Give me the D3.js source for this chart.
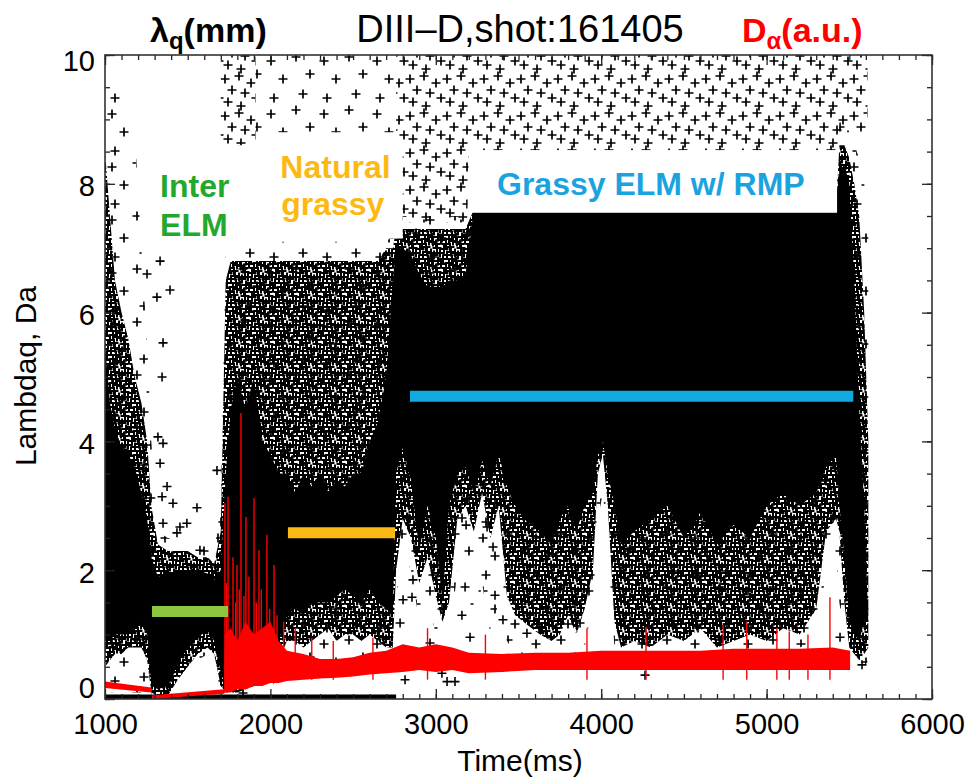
<!DOCTYPE html>
<html>
<head>
<meta charset="utf-8">
<title>DIII-D shot 161405</title>
<script src="https://d3js.org/d3.v7.min.js"></script>
<style>
  body { margin: 0; background: white; }
  text { font-family: "Liberation Sans", Arial, Helvetica, sans-serif; }
</style>
</head>
<body>
<svg id="chart" width="971" height="782"></svg>
<script>
// ---- data: [time ms, low, high] for lambda_q point clouds ----
const solidBand = [[1000,0.9,5.5],[1030,0.9,4.6],[1060,1.0,4.2],[1100,1.0,3.9],[1140,1.0,3.8],[1180,1.1,3.6],[1220,1.2,3.2],[1255,1.0,2.8],[1280,0.2,2.2],
  [1320,0.15,1.9],[1380,0.2,1.95],[1440,0.55,2.0],[1500,0.8,2.0],[1560,0.95,2.0],[1620,1.07,1.95],[1660,0.9,1.85],[1700,0.4,2.0],
  [1730,0.2,3.5],[1760,0.3,4.5],[1800,0.3,5.0],[1850,0.35,4.5],[1900,0.4,5.0],[1950,0.45,4.0],[2000,0.6,3.8],[2050,0.9,3.5],[2100,1.3,3.5],[2150,1.4,3.2],[2200,1.3,3.5],[2250,1.5,3.3],[2300,1.5,3.5],[2350,1.5,3.2],[2400,1.6,3.4],[2450,1.7,3.3],[2500,1.6,3.5],[2550,1.5,3.5],[2600,1.7,4.0],[2650,1.5,4.3],[2700,1.4,5.0],[2740,1.3,6.5],
  [2760,3.5,7.0],[2800,3.9,7.0],[2850,3.4,6.9],[2900,2.3,6.6],[2950,3.0,6.4],[3000,2.5,6.4],[3040,1.5,6.4],[3080,3.0,6.5],[3130,3.5,6.5],[3180,3.6,6.6],[3230,3.2,7.6],[3280,3.7,7.6],[3330,3.3,7.6],[3380,3.8,7.6],[3430,3.3,7.6],[3480,3.0,7.6],[3530,2.8,7.6],[3580,2.7,7.6],[3630,2.6,7.6],[3700,2.4,7.6],[3750,2.8,7.6],[3800,3.0,7.6],[3850,2.6,7.6],[3900,3.0,7.6],[3950,3.2,7.6],[3980,3.8,7.6],[4010,4.0,7.6],[4040,3.5,7.6],[4080,3.0,7.6],[4120,2.4,7.6],[4200,2.6,7.6],[4300,2.8,7.6],[4400,3.0,7.6],[4500,2.5,7.6],[4600,2.9,7.6],[4700,2.4,7.6],[4800,2.7,7.6],[4900,2.5,7.6],[5000,3.0,7.6],[5100,3.2,7.6],[5200,3.0,7.6],[5300,3.2,7.6],[5360,3.6,7.6],[5420,3.8,7.6],[5440,3.0,8.2],[5470,2.2,8.3],[5500,1.2,8.0],[5530,1.0,6.5],[5560,0.9,4.5],[5590,1.2,3.0],[5615,1.2,1.2]];

const mottleBand = [[1000,0.5,8.5],[1030,0.6,7.5],[1060,0.7,6.5],[1100,0.7,6.0],[1140,0.8,5.6],[1180,0.8,5.0],[1220,0.8,4.6],[1255,0.6,4.0],[1280,0.1,3.0],
  [1320,0.05,2.4],[1380,0.05,2.3],[1440,0.3,2.3],[1500,0.5,2.3],[1560,0.7,2.2],[1620,0.8,2.2],[1660,0.7,2.1],[1700,0.2,2.6],
  [1730,0.1,6.5],[1760,0.1,6.8],[1800,0.1,6.8],[1850,0.15,6.8],[1900,0.2,6.8],[1950,0.2,6.8],[2000,0.3,6.8],[2050,0.6,6.8],[2100,0.9,6.8],[2150,0.9,6.8],[2200,0.8,6.8],[2250,0.9,6.8],[2300,1.0,6.8],[2350,1.1,6.8],[2400,0.9,6.8],[2450,1.0,6.8],[2500,1.0,6.8],[2550,0.9,6.8],[2600,1.0,6.8],[2650,0.9,6.8],[2700,0.8,7.0],[2740,0.8,7.0],
  [2760,2.0,7.3],[2800,2.8,7.3],[2850,2.5,7.3],[2900,1.8,7.3],[2950,2.2,7.3],[3000,1.6,7.3],[3040,1.2,7.3],[3080,1.5,7.3],[3130,2.8,7.3],[3180,3.0,7.3],[3230,2.6,7.6],[3280,3.2,7.6],[3330,2.5,7.6],[3380,3.0,7.6],[3430,1.6,7.6],[3480,1.3,7.6],[3530,1.2,7.6],[3580,1.1,7.6],[3630,1.0,7.6],[3700,0.9,7.6],[3750,1.0,7.6],[3800,1.3,7.6],[3850,1.0,7.6],[3900,1.4,7.6],[3950,2.0,7.6],[3980,3.5,7.6],[4010,3.8,7.6],[4040,3.0,7.6],[4080,1.2,7.6],[4120,0.8,7.6],[4200,0.9,7.6],[4300,0.8,7.6],[4400,1.0,7.6],[4500,0.9,7.6],[4600,1.1,7.6],[4700,0.8,7.6],[4800,0.9,7.6],[4900,1.0,7.6],[5000,0.9,7.6],[5100,1.1,7.6],[5200,1.0,7.6],[5300,1.4,7.6],[5360,2.6,7.6],[5420,2.8,7.6],[5440,2.6,8.6],[5470,1.5,8.6],[5500,0.8,8.4],[5530,0.7,8.0],[5560,0.6,7.5],[5590,0.7,6.0],[5615,0.8,4.0]];

const haloBand = [[1000,0.1,9.8],[1030,0.1,9.8],[1060,0.1,9.6],[1100,0.1,9.4],[1140,0.1,9.2],[1180,0.1,8.8],[1220,0.1,7.0],[1255,0.1,5.5],[1280,0.05,4.0],
  [1320,0.0,2.6],[1380,0.0,2.5],[1440,0.2,2.5],[1500,0.4,2.5],[1560,0.6,2.4],[1620,0.7,2.4],[1660,0.6,2.3],[1700,0.1,3.0],
  [1730,0.05,7.0],[1800,0.05,7.0],[1900,0.05,7.0],[1950,0.1,7.0],[2000,0.2,7.1],[2050,0.3,7.1],[2100,0.5,7.1],[2200,0.4,7.1],[2300,0.6,7.1],[2400,0.5,7.1],[2500,0.6,7.1],[2600,0.6,7.1],[2700,0.4,7.1],[2740,0.4,7.2],
  [2760,1.5,7.5],[2800,2.3,7.5],[2850,2.0,7.5],[2900,1.2,7.5],[2950,1.6,7.5],[3000,1.0,7.5],[3040,0.5,7.5],[3080,0.8,7.5],[3130,2.0,7.5],[3180,2.2,7.5],[3230,1.0,7.6],[3280,1.8,7.6],[3330,1.0,7.6],[3380,1.5,7.6],[3430,0.9,7.6],[3480,0.7,7.6],[3530,0.6,7.6],[3630,0.6,7.6],[3750,0.6,7.6],[3850,0.6,7.6],[3900,0.8,7.6],[3950,1.5,7.6],[3980,2.8,7.6],[4010,3.2,7.6],[4040,2.4,7.6],[4080,0.8,7.6],[4120,0.5,7.6],[4300,0.5,7.6],[4500,0.6,7.6],[4700,0.5,7.6],[4900,0.6,7.6],[5100,0.7,7.6],[5300,0.9,7.6],[5360,2.0,7.6],[5420,2.2,7.6],[5440,1.5,9.0],[5470,1.0,9.0],[5500,0.5,8.8],[5530,0.4,8.6],[5560,0.4,8.4],[5590,0.5,8.0],[5615,0.6,7.5]];

// upper scatter above the labels (null = gap)
const topBand = [[1700,8.6,10],[1910,8.6,10],[1911,null,null],[2759,null,null],[2760,7.4,10],[3190,7.4,10],[3200,8.52,10],[5430,8.52,10],[5440,8.8,10],[5610,8.8,10]];
const topSparse = [[1910,8.8,10],[2760,8.8,10]];

// single stray points [time, lambda_q]
const strayPoints = [[1333,3.66],[1375,3.3],[1345,3.14],[1411,3.04],[1351,2.73],[1453,2.67],[1495,2.73],[1556,2.97],[1574,2.31],[1435,2.58],[1320,4.07],[1351,3.97],[1677,3.55],[1345,5.0],[1333,6.8],[1393,6.35],[1314,6.24],[1351,5.53],[1254,6.6],
  [2862,1.85],[2856,1.58],[2802,1.54],[2784,1.18],[2814,0.3],[3177,1.74],[3158,1.3],[3358,1.61],[3479,1.54],[3406,1.23],[3346,2.36],[3310,2.67],[3183,2.7],[3207,0.96],[2965,0.87],[3037,0.4],[3068,0.27],[3116,0.27],[4265,0.37],[5577,0.53],[3630,1.12],[3551,1.02],[3872,1.18],[5444,0.96]];

// row of zero values at the bottom
const zeroRow = [1000, 2760];

// D-alpha: noisy band [t, low, high] and ELM spikes [t, peak]
const daBand = [[1000,0.17,0.27],[1280,0.10,0.18],[1285,0.0,0.06],[1720,0.08,0.15],[1725,0.1,1.0],[1760,0.1,1.1],[1800,0.15,0.9],[1850,0.15,1.2],[1900,0.2,1.0],[1950,0.2,1.1],[2000,0.25,1.2],[2050,0.25,0.9],[2100,0.28,0.75],[2200,0.3,0.7],[2300,0.32,0.62],[2400,0.33,0.62],[2500,0.35,0.65],[2600,0.38,0.72],[2700,0.4,0.75],[2800,0.42,0.85],[2900,0.45,0.8],[3000,0.42,0.85],[3100,0.45,0.8],[3200,0.4,0.72],[3400,0.42,0.7],[3600,0.45,0.72],[3800,0.45,0.72],[4000,0.45,0.75],[4200,0.45,0.75],[4400,0.45,0.75],[4600,0.45,0.75],[4800,0.45,0.78],[5000,0.45,0.78],[5200,0.45,0.78],[5400,0.45,0.8],[5505,0.45,0.75]];
const daSpikes = [[1725,3.04],[1735,1.8],[1744,3.14],[1774,2.2],[1790,1.5],[1798,2.08],[1812,1.7],[1822,4.44],[1840,1.6],[1852,2.83],[1870,1.9],[1901,3.12],[1915,1.5],[1931,2.31],[1945,1.7],[1979,2.55],[1995,1.4],[2022,2.08],[2040,1.3],[2080,1.2],[2150,1.1],[2250,0.95],[2380,0.9],[2620,0.95],[2950,1.1],[3300,1.0],[3914,1.1],[4271,1.12],[4737,1.15],[4880,1.2],[5062,1.1],[5137,1.05],[5250,1.0],[5383,1.58]];

// regime bars [t start, t end, level] and white label boxes [t0, t1, v0, v1]
const regimeBars = [[1284,1744,1.36],[2106,2754,2.58],[2844,5524,4.7]];
const regimeColors = ["#8DC63F","#FDB913","#12A8E0"];
const labelBoxes = [[1935,2800,7.15,8.52],[3207,5426,7.55,8.52]];

const xTicks = [1000,2000,3000,4000,5000,6000];
const yTicks = [0,2,4,6,8,10];

// ---- layout ----
const svg = d3.select("#chart");
const x = d3.scaleLinear().domain([1000,6000]).range([105,932]);
const y = d3.scaleLinear().domain([0,10]).range([699,55]);

const defs = svg.append("defs");
defs.append("clipPath").attr("id","plotclip").append("rect")
  .attr("x",105).attr("y",55).attr("width",827).attr("height",644);

// plus-marker textures used to render the point clouds
function plusPattern(id, size, pts, arm, sw) {
  let d = "";
  pts.forEach(([px,py]) => {
    [-size,0,size].forEach(dx => [-size,0,size].forEach(dy => {
      const cx = px+dx, cy = py+dy;
      d += `M${cx-arm},${cy}h${2*arm}M${cx},${cy-arm}v${2*arm}`;
    }));
  });
  defs.append("pattern").attr("id",id).attr("patternUnits","userSpaceOnUse")
    .attr("width",size).attr("height",size)
    .append("path").attr("d",d).attr("stroke","#000").attr("stroke-width",sw).attr("fill","none");
}
plusPattern("dense", 24, [[1,2],[9,0],[14,4],[21,1],[5,8],[12,9],[18,7],[23,13],[2,15],[8,13],[15,15],[20,19],[6,21],[11,19],[17,23],[0,21],[4,4],[19,12]], 4.5, 2.0);
plusPattern("medium", 37, [[3,5],[17,2],[29,9],[10,16],[23,19],[34,24],[6,28],[19,32]], 4.5, 1.7);
plusPattern("sparse", 53, [[6,8],[31,4],[45,21],[18,26],[38,41],[9,45]], 4.5, 1.7);

const plot = svg.append("g").attr("clip-path","url(#plotclip)");

const band = d3.area()
  .defined(d => d[1] != null)
  .x(d => x(d[0])).y0(d => y(d[1])).y1(d => y(d[2]));

plot.append("path").datum(haloBand).attr("d",band).attr("fill","url(#sparse)");
plot.append("path").datum(topSparse).attr("d",band).attr("fill","url(#sparse)");
plot.append("path").datum(topBand).attr("d",band).attr("fill","url(#medium)");
plot.append("path").datum(mottleBand).attr("d",band).attr("fill","url(#dense)");
plot.append("path").datum(solidBand).attr("d",band).attr("fill","#000");

plot.append("rect")
  .attr("x",x(zeroRow[0])).attr("width",x(zeroRow[1])-x(zeroRow[0]))
  .attr("y",y(0.07)).attr("height",y(0)-y(0.07)).attr("fill","#000");

plot.selectAll("path.stray").data(strayPoints).join("path")
  .attr("class","stray")
  .attr("d", d => `M${x(d[0])-4.5},${y(d[1])}h9M${x(d[0])},${y(d[1])-4.5}v9`)
  .attr("stroke","#000").attr("stroke-width",1.6);

plot.selectAll("rect.box").data(labelBoxes).join("rect")
  .attr("class","box")
  .attr("x",d => x(d[0])).attr("width",d => x(d[1])-x(d[0]))
  .attr("y",d => y(d[3])).attr("height",d => y(d[2])-y(d[3]))
  .attr("fill","#fff");

// D-alpha
plot.append("path").datum(daBand).attr("d",band).attr("fill","#ff0000");
plot.selectAll("line.spike").data(daSpikes).join("line")
  .attr("class","spike")
  .attr("x1",d => x(d[0])).attr("x2",d => x(d[0]))
  .attr("y1",y(0.3)).attr("y2",d => y(d[1]))
  .attr("stroke","#ff0000").attr("stroke-width",1.4);

// regime bars
plot.selectAll("line.bar").data(regimeBars).join("line")
  .attr("class","bar")
  .attr("x1",d => x(d[0])).attr("x2",d => x(d[1]))
  .attr("y1",d => y(d[2])).attr("y2",d => y(d[2]))
  .attr("stroke",(d,i) => regimeColors[i]).attr("stroke-width",11);

// annotations
const ann = svg.append("g").attr("font-weight","bold").attr("font-size",32);
ann.append("text").attr("x",x(1333)).attr("y",y(7.79)).attr("fill","#22A82C").text("Inter");
ann.append("text").attr("x",x(1333)).attr("y",y(7.19)).attr("fill","#22A82C").text("ELM");
ann.append("text").attr("x",x(2060)).attr("y",y(8.09)).attr("fill","#FDB913").text("Natural");
ann.append("text").attr("x",x(2065)).attr("y",y(7.52)).attr("fill","#FDB913").text("grassy");
ann.append("text").attr("x",x(3370)).attr("y",y(7.83)).attr("fill","#1BA3E0").text("Grassy ELM w/ RMP");

// axes: inward ticks on all four sides
function styleAxis(g) {
  g.select(".domain").remove();
  g.selectAll(".tick line").attr("stroke","#222").attr("stroke-width",1.3);
  g.selectAll("text").attr("font-size",29).attr("fill","#000")
    .attr("font-family","'Liberation Sans', Arial, sans-serif");
}
const minorX = d3.range(1000,6001,100);
const minorY = d3.range(0,10.01,0.5);

svg.append("g").attr("transform","translate(0,699)")
  .call(d3.axisBottom(x).tickValues(minorX).tickSize(-5).tickFormat("")).call(styleAxis);
svg.append("g").attr("transform","translate(0,699)")
  .call(d3.axisBottom(x).tickValues(xTicks).tickSize(-10).tickPadding(14).tickFormat(d3.format("d"))).call(styleAxis);
svg.append("g").attr("transform","translate(0,55)")
  .call(d3.axisTop(x).tickValues(minorX).tickSize(-5).tickFormat("")).call(styleAxis);
svg.append("g").attr("transform","translate(0,55)")
  .call(d3.axisTop(x).tickValues(xTicks).tickSize(-10).tickFormat("")).call(styleAxis);

svg.append("g").attr("transform","translate(105,0)")
  .call(d3.axisLeft(y).tickValues(minorY).tickSize(-5).tickFormat("")).call(styleAxis);
const yAx = svg.append("g").attr("transform","translate(105,0)")
  .call(d3.axisLeft(y).tickValues(yTicks).tickSize(-10).tickPadding(10).tickFormat(d3.format("d"))).call(styleAxis);
yAx.selectAll(".tick text").attr("dy", d => d === 0 ? "-0.06em" : d === 10 ? "0.52em" : "0.42em");
svg.append("g").attr("transform","translate(932,0)")
  .call(d3.axisRight(y).tickValues(minorY).tickSize(-5).tickFormat("")).call(styleAxis);
svg.append("g").attr("transform","translate(932,0)")
  .call(d3.axisRight(y).tickValues(yTicks).tickSize(-10).tickFormat("")).call(styleAxis);

svg.append("rect").attr("x",105).attr("y",55).attr("width",827).attr("height",644)
  .attr("fill","none").attr("stroke","#333").attr("stroke-width",1.6);

// axis titles
svg.append("text").attr("x",520).attr("y",771).attr("text-anchor","middle")
  .attr("font-size",30).text("Time(ms)");
svg.append("text").attr("transform","translate(36,376) rotate(-90)").attr("text-anchor","middle")
  .attr("font-size",30).text("Lambdaq, Da");

// header
const lq = svg.append("text").attr("x",150).attr("y",42).attr("font-size",34).attr("font-weight","bold");
lq.append("tspan").text("λ");
lq.append("tspan").attr("font-size",24).attr("dy",7).text("q");
lq.append("tspan").attr("dy",-7).text("(mm)");
svg.append("text").attr("x",520).attr("y",42).attr("text-anchor","middle")
  .attr("font-size",38).text("DIII–D,shot:161405");
const da = svg.append("text").attr("x",742).attr("y",42).attr("font-size",34).attr("font-weight","bold").attr("fill","#ff0000");
da.append("tspan").text("D");
da.append("tspan").attr("font-size",24).attr("dy",7).text("α");
da.append("tspan").attr("dy",-7).text("(a.u.)");
</script>
</body>
</html>
